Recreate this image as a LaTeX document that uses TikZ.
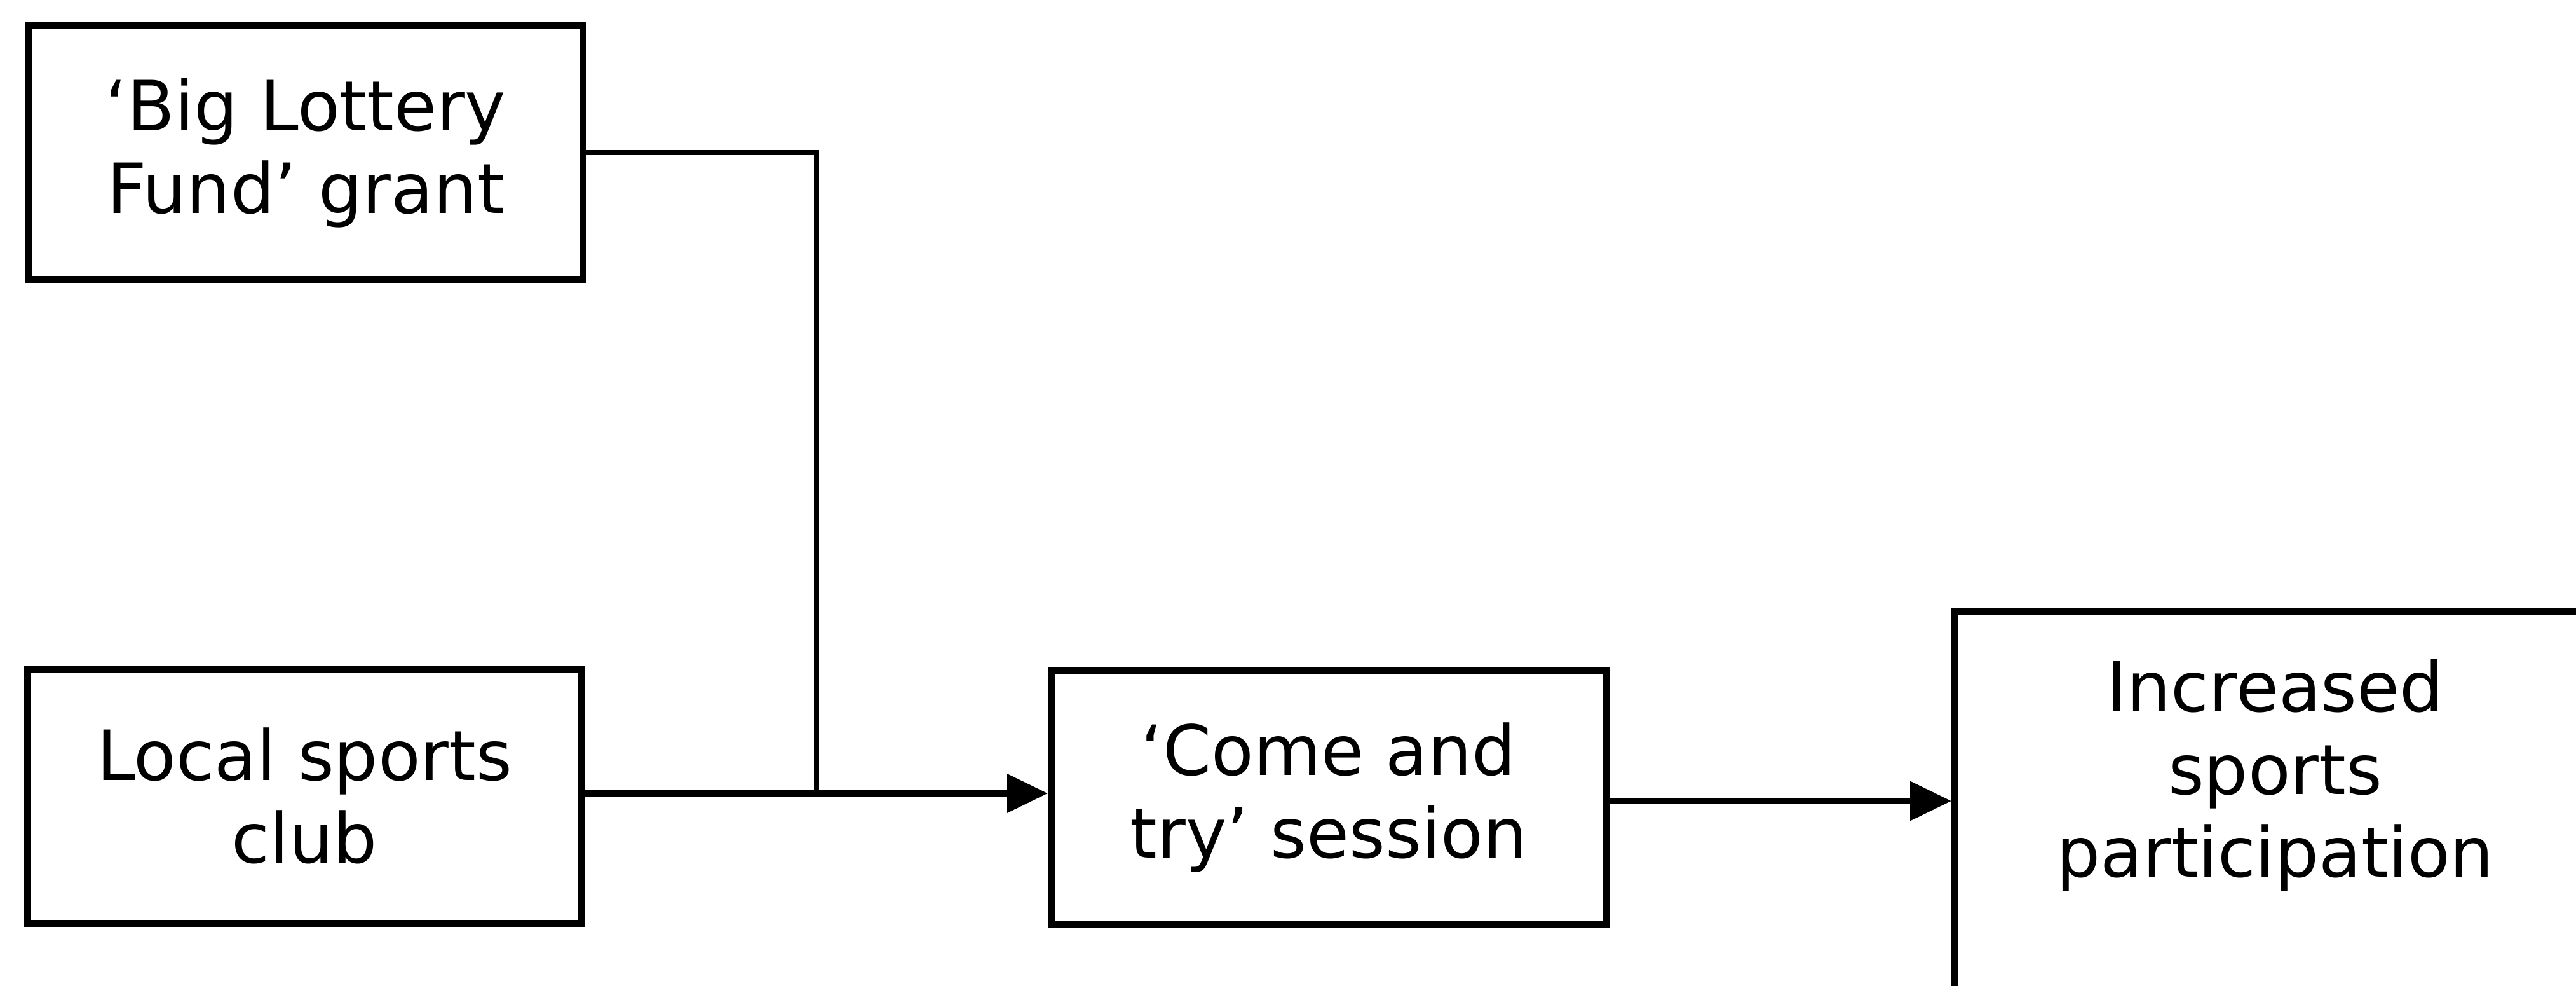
\documentclass[tikz,border=0pt]{standalone}
\usepackage{fontspec}
\setmainfont{DejaVu Sans}
\usepackage{tikz}
\usetikzlibrary{arrows.meta}

\begin{document}
\begin{tikzpicture}[
		stagebox/.style={draw, line width=0.11cm, minimum width=8.73cm, minimum height=4.0cm, align=center, font=\fontsize{31}{37}\selectfont},
		flowline/.style={line width=0.1cm},
		flowarrow/.style={flowline, -{Triangle[length=0.65cm, width=0.6cm]}}
	]
		%%%%% START %%%%%
		\useasboundingbox (0, 0) rectangle (40.54, -15.51);
		\clip (0, 0) rectangle (40.54, -15.51);
		
		\node[stagebox] (lottery) at (4.81, -2.40) {‘Big Lottery\\Fund’ grant};
		\node[stagebox] (club) at (4.79, -12.52) {Local sports\\club};
		\node[stagebox] (session) at (20.91, -12.54) {‘Come and\\try’ session};
		
		\node[draw, line width=0.11cm, inner sep=0pt, anchor=north west, font=\fontsize{31}{37}\selectfont] (outcome) at (30.71, -9.56) {\parbox[c][7.5cm][t]{10.08cm}{\centering\vspace*{0.75cm}Increased\\sports\\participation}};
		
		\coordinate (join) at (12.85, -12.48);
		
		\draw[flowline, line width=0.08cm] (lottery.east) -| (join);
		\draw[flowarrow] (club.east |- join) -- (session.west |- join);
		\draw[flowarrow] ([yshift=-0.06cm]session.east) -- ([yshift=-0.06cm]session.east -| outcome.west);
		%%%%% END %%%%%
\end{tikzpicture}
\end{document}
